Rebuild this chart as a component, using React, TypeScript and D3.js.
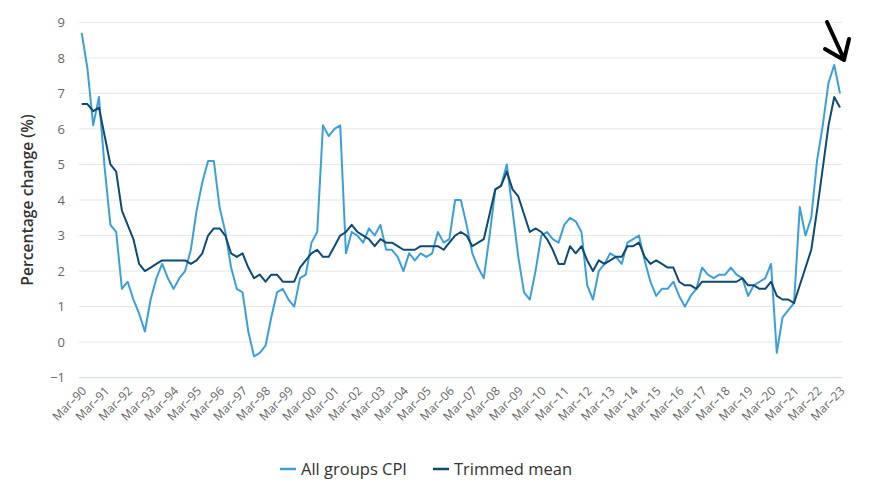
import React, { useEffect, useRef } from "react";
import * as d3 from "d3";

// quarterly labels, Mar-90 .. Mar-23
const months = ["Mar", "Jun", "Sep", "Dec"];
const years = d3.range(1990, 2024);
const quarters: string[] = years
  .flatMap((y) => months.map((m) => `${m}–${String(y).slice(2)}`))
  .slice(0, 133);

// year-ended % change
const cpi = [
  8.7, 7.7, 6.1, 6.9, 4.9, 3.3, 3.1, 1.5, 1.7, 1.2, 0.8, 0.3,
  1.2, 1.8, 2.2, 1.8, 1.5, 1.8, 2.0, 2.6, 3.7, 4.5, 5.1, 5.1,
  3.8, 3.1, 2.1, 1.5, 1.4, 0.3, -0.4, -0.3, -0.1, 0.7, 1.4, 1.5,
  1.2, 1.0, 1.8, 1.9, 2.8, 3.1, 6.1, 5.8, 6.0, 6.1, 2.5, 3.1,
  3.0, 2.8, 3.2, 3.0, 3.3, 2.6, 2.6, 2.4, 2.0, 2.5, 2.3, 2.5,
  2.4, 2.5, 3.1, 2.8, 2.9, 4.0, 4.0, 3.3, 2.5, 2.1, 1.8, 3.0,
  4.3, 4.4, 5.0, 3.7, 2.4, 1.4, 1.2, 2.0, 3.0, 3.1, 2.9, 2.8,
  3.3, 3.5, 3.4, 3.1, 1.6, 1.2, 2.0, 2.2, 2.5, 2.4, 2.2, 2.8,
  2.9, 3.0, 2.3, 1.7, 1.3, 1.5, 1.5, 1.7, 1.3, 1.0, 1.3, 1.5,
  2.1, 1.9, 1.8, 1.9, 1.9, 2.1, 1.9, 1.8, 1.3, 1.6, 1.7, 1.8,
  2.2, -0.3, 0.7, 0.9, 1.1, 3.8, 3.0, 3.5, 5.1, 6.1, 7.3, 7.8,
  7.0,
];

const trimmed = [
  6.7, 6.7, 6.5, 6.6, 5.8, 5.0, 4.8, 3.7, 3.3, 2.9, 2.2, 2.0,
  2.1, 2.2, 2.3, 2.3, 2.3, 2.3, 2.3, 2.2, 2.3, 2.5, 3.0, 3.2,
  3.2, 3.0, 2.5, 2.4, 2.5, 2.1, 1.8, 1.9, 1.7, 1.9, 1.9, 1.7,
  1.7, 1.7, 2.1, 2.3, 2.5, 2.6, 2.4, 2.4, 2.7, 3.0, 3.1, 3.3,
  3.1, 3.0, 2.9, 2.7, 2.9, 2.8, 2.8, 2.7, 2.6, 2.6, 2.6, 2.7,
  2.7, 2.7, 2.7, 2.6, 2.8, 3.0, 3.1, 3.0, 2.7, 2.8, 2.9, 3.6,
  4.3, 4.4, 4.8, 4.3, 4.1, 3.6, 3.1, 3.2, 3.1, 2.9, 2.6, 2.2,
  2.2, 2.7, 2.5, 2.7, 2.3, 2.0, 2.3, 2.2, 2.3, 2.4, 2.4, 2.7,
  2.7, 2.8, 2.4, 2.2, 2.3, 2.2, 2.1, 2.1, 1.7, 1.6, 1.6, 1.5,
  1.7, 1.7, 1.7, 1.7, 1.7, 1.7, 1.7, 1.8, 1.6, 1.6, 1.5, 1.5,
  1.7, 1.3, 1.2, 1.2, 1.1, 1.6, 2.1, 2.6, 3.7, 4.9, 6.1, 6.9,
  6.6,
];

const yTicks = [-1, 0, 1, 2, 3, 4, 5, 6, 7, 8, 9];

const seriesNames = ["All groups CPI", "Trimmed mean"];
const seriesColors = ["#3d9fd8", "#0f4a71"];

const App: React.FC = () => {
  const ref = useRef<SVGSVGElement>(null);

  useEffect(() => {
    document.body.style.margin = "0";
    const svg = d3.select(ref.current);
    svg.selectAll("*").remove();

    const font = "'Open Sans', 'DejaVu Sans', sans-serif";
    const plotLeft = 79;
    const plotRight = 842;

    const x = d3.scalePoint<string>().domain(quarters).range([81.7, 840]);
    const y = d3.scaleLinear().domain([-1, 9]).range([377.7, 22.3]);

    // gridlines
    svg
      .append("g")
      .selectAll("line")
      .data(yTicks)
      .enter()
      .append("line")
      .attr("x1", plotLeft)
      .attr("x2", plotRight)
      .attr("y1", (d) => y(d))
      .attr("y2", (d) => y(d))
      .attr("stroke", (d) => (d === -1 ? "#ccd6eb" : "#e6e6e6"))
      .attr("stroke-width", 1);

    // y axis labels
    const yAxis = svg
      .append("g")
      .attr("transform", `translate(${plotLeft - 4},0)`)
      .call(d3.axisLeft(y).tickValues(yTicks).tickSize(0).tickPadding(10).tickFormat((d) => {
        const v = d as number;
        return v < 0 ? `−${Math.abs(v)}` : String(v);
      }));
    yAxis.select(".domain").remove();
    yAxis
      .selectAll("text")
      .attr("font-family", font)
      .attr("font-size", 13)
      .attr("fill", "#666");

    // x axis labels
    const xAxis = svg
      .append("g")
      .attr("transform", `translate(0,${y(-1)})`)
      .call(
        d3
          .axisBottom(x)
          .tickValues(quarters.filter((q) => q.startsWith("Mar")))
          .tickSize(0)
      );
    xAxis.select(".domain").remove();
    xAxis
      .selectAll("text")
      .attr("font-family", font)
      .attr("font-size", 12)
      .attr("fill", "#666")
      .attr("text-anchor", "end")
      .attr("dy", null)
      .attr("y", 0)
      .attr("transform", "translate(5,14) rotate(-45)");

    // y title
    svg
      .append("text")
      .attr("transform", "translate(33,200) rotate(-90)")
      .attr("text-anchor", "middle")
      .attr("font-family", font)
      .attr("font-size", 15.7)
      .attr("font-weight", 600)
      .attr("fill", "#333")
      .text("Percentage change (%)");

    const line = d3
      .line<number>()
      .x((d, i) => x(quarters[i]) as number)
      .y((d) => y(d));

    [cpi, trimmed].forEach((data, k) => {
      svg
        .append("path")
        .datum(data)
        .attr("fill", "none")
        .attr("stroke", seriesColors[k])
        .attr("stroke-width", 2)
        .attr("stroke-linejoin", "round")
        .attr("d", line);
    });

    // legend
    const legendX = [280, 433];
    seriesNames.forEach((name, k) => {
      const g = svg.append("g").attr("transform", `translate(${legendX[k]},469)`);
      g.append("line")
        .attr("x1", 0)
        .attr("x2", 16)
        .attr("y1", 0)
        .attr("y2", 0)
        .attr("stroke", seriesColors[k])
        .attr("stroke-width", 2.5);
      g.append("text")
        .attr("x", 21)
        .attr("y", 5.5)
        .attr("font-family", font)
        .attr("font-size", 16.5)
        .attr("fill", "#333")
        .text(name);
    });

    // hand-drawn arrow annotation
    svg
      .append("path")
      .attr("d", "M827,22 L844,59 M825,49 L844,60 M849,39 L844,60")
      .attr("fill", "none")
      .attr("stroke", "#000")
      .attr("stroke-width", 4)
      .attr("stroke-linecap", "round")
      .attr("stroke-linejoin", "round");
  }, []);

  return <svg ref={ref} width={873} height={488} style={{ display: "block" }} />;
};

export default App;
